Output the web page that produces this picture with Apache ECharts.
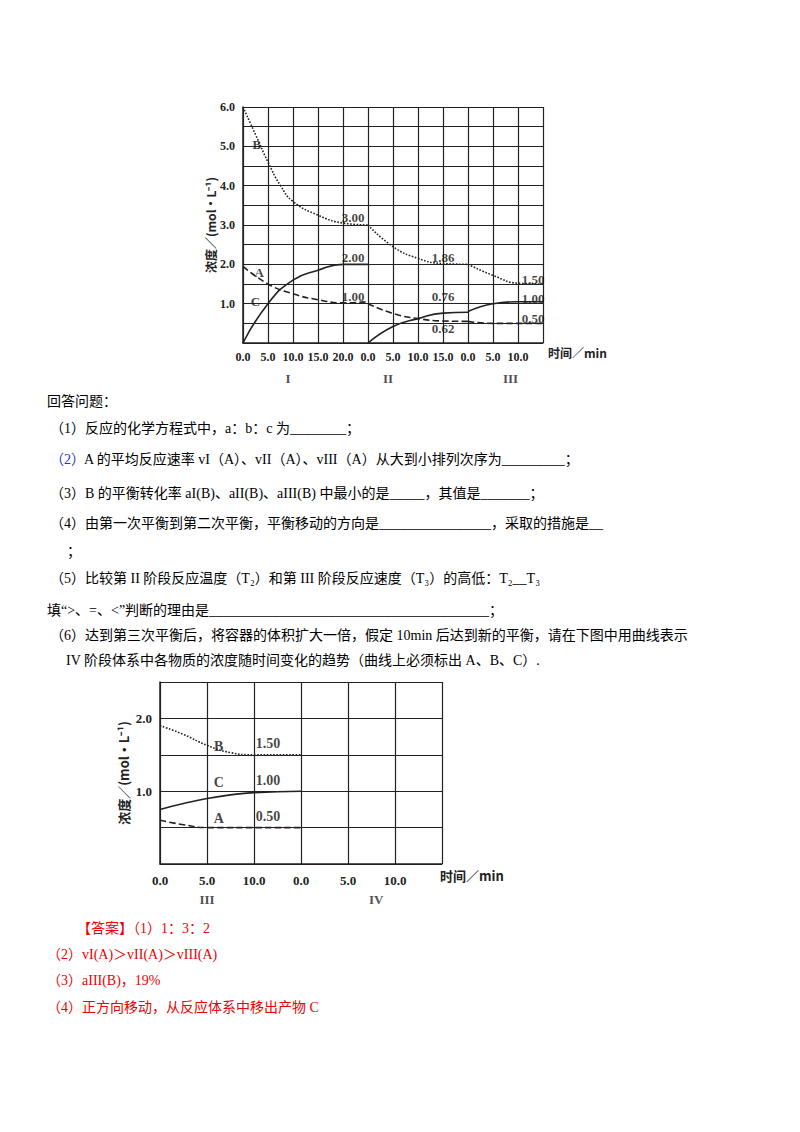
<!DOCTYPE html>
<html><head><meta charset="utf-8">
<script src="https://cdn.jsdelivr.net/npm/echarts@6/dist/echarts.min.js"></script>
<style>html,body{margin:0;padding:0;background:#fff}#c{width:800px;height:1132px}</style>
</head><body><div id="c"></div>
<script>
// ---- chart 1 data (x in grid cells; 1 cell = 5 min) ----
const xLabels1 = ['0.0','5.0','10.0','15.0','20.0','0.0','5.0','10.0','15.0','0.0','5.0','10.0',''];
const stageLabels1 = [['I',1.8],['II',5.8],['III',10.7]];
const B_I = [[0,6.0],[0.5,5.3],[1,4.6],[1.5,4.0],[2,3.6],[3,3.25],[4,3.05],[5,3.0]];
const B_II = [[5,3.0],[6,2.45],[7,2.15],[8,2.02],[9,2.0]];
const B_III = [[9,2.0],[10,1.72],[11,1.52],[12,1.5]];
const C_I = [[0,0],[1,1.0],[2,1.6],[3,1.85],[4,2.0],[5,2.0]];
const C_II = [[5,0],[6,0.42],[7,0.62],[8,0.76],[9,0.78]];
const C_III = [[9,0.8],[10,1.0],[11,1.05],[12,1.05]];
const A_I = [[0,1.95],[1,1.5],[2,1.25],[3,1.1],[4,1.02],[5,1.05]];
const A_II = [[5,1.0],[6,0.75],[7,0.62],[8,0.56],[9,0.55]];
const A_III = [[9,0.55],[10,0.5],[12,0.5]];
const notes1 = [[0.55,5.05,'B'],[0.65,1.8,'A'],[0.5,1.05,'C'],[4.4,3.18,'3.00'],[4.4,2.18,'2.00'],[4.4,1.18,'1.00'],
  [8.0,2.18,'1.86'],[8.0,1.18,'0.76'],[8.0,0.38,'0.62'],[11.6,1.62,'1.50'],[11.6,1.12,'1.00'],[11.6,0.62,'0.50']];
// ---- chart 2 data ----
const xLabels2 = ['0.0','5.0','10.0','0.0','5.0','10.0',''];
const stageLabels2 = [['III',1],['IV',4.6]];
const B2 = [[0,1.9],[0.5,1.78],[1,1.63],[1.5,1.53],[2,1.5],[3,1.5]];
const C2 = [[0,0.75],[0.5,0.83],[1,0.9],[1.5,0.95],[2,0.98],[3,1.0]];
const A2 = [[0,0.6],[0.5,0.54],[1,0.5],[3,0.5]];
const notes2 = [[1.25,1.62,'B'],[2.3,1.65,'1.50'],[1.25,1.12,'C'],[2.3,1.15,'1.00'],[1.25,0.62,'A'],[2.3,0.65,'0.50']];

const serif = 'Liberation Serif';
const cjk = '"Noto Sans CJK SC"';
const ink = '#222';
function ln(data, type, xi){ return {type:'line', xAxisIndex:xi, yAxisIndex:xi, data, smooth:true, symbol:'none',
  lineStyle:{color:ink, width:1.6, type}}; }
function notes(arr, xi, fs){ return {type:'scatter', xAxisIndex:xi, yAxisIndex:xi, symbolSize:0, data:arr.map(d=>[d[0],d[1],d[2]]),
  label:{show:true, position:'inside', formatter:p=>p.data[2], color:'#111', fontFamily:serif, fontSize:fs, fontWeight:'bold'}}; }
function stage(arr, xi){ return {type:'scatter', xAxisIndex:xi, yAxisIndex:xi, symbolSize:0, data:arr.map(d=>[d[1],0,d[0]]),
  label:{show:true, position:'inside', offset:[0,35], formatter:p=>p.data[2], color:ink, fontFamily:serif, fontSize:13, fontWeight:'bold'}}; }
const axisBase = {axisLine:{show:true,lineStyle:{color:ink,width:1.5}}, axisTick:{show:false},
  splitLine:{show:true,lineStyle:{color:ink,width:1.2}}};

const texts = [
 [47,403,'回答问题：','#000'],
 [50,430,'（1）反应的化学方程式中，a：b：c 为________；','#000'],
 [50,461,'（2）','#2233cc'],
 [84,461,'A 的平均反应速率 vI（A）、vII（A）、vIII（A）从大到小排列次序为_________；','#000'],
 [50,495,'（3）B 的平衡转化率 aI(B)、aII(B)、aIII(B) 中最小的是_____，其值是_______；','#000'],
 [50,525,'（4）由第一次平衡到第二次平衡，平衡移动的方向是________________，采取的措施是__','#000'],
 [67,553,'；','#000'],
 [50,580,'（5）比较第 II 阶段反应温度（T₂）和第 III 阶段反应速度（T₃）的高低：T₂__T₃','#000'],
 [47,612,'填“>、=、<”判断的理由是________________________________________；','#000'],
 [50,637,'（6）达到第三次平衡后，将容器的体积扩大一倍，假定 10min 后达到新的平衡，请在下图中用曲线表示','#000'],
 [66,662,'IV 阶段体系中各物质的浓度随时间变化的趋势（曲线上必须标出 A、B、C）.','#000'],
 [77,930,'【答案】（1）1：3：2','#e00'],
 [47,956,'（2）vI(A)＞vII(A)＞vIII(A)','#e00'],
 [47,982,'（3）aIII(B)，19%','#e00'],
 [47,1009,'（4）正方向移动，从反应体系中移出产物 C','#e00']
];

const chart = echarts.init(document.getElementById('c'), null, {renderer:'svg'});
chart.setOption({
  animation:false,
  grid:[{left:243,top:107,width:300,height:236},{left:160,top:682,width:282,height:182}],
  xAxis:[
    Object.assign({type:'value', gridIndex:0, min:0, max:12, interval:1,
      axisLabel:{formatter:v=>xLabels1[Math.round(v)], color:ink, fontFamily:serif, fontSize:12, fontWeight:'bold', margin:8}}, axisBase),
    Object.assign({type:'value', gridIndex:1, min:0, max:6, interval:1,
      axisLabel:{formatter:v=>xLabels2[Math.round(v)], color:ink, fontFamily:serif, fontSize:13, fontWeight:'bold', margin:10}}, axisBase)
  ],
  yAxis:[
    Object.assign({type:'value', gridIndex:0, min:0, max:6, interval:0.5,
      name:'浓度／(mol·L⁻¹)', nameLocation:'middle', nameGap:26, nameRotate:90,
      nameTextStyle:{fontFamily:cjk, fontSize:12, fontWeight:'bold', color:ink},
      axisLabel:{formatter:v=>(v>0 && Number.isInteger(v))?v.toFixed(1):'', color:ink, fontFamily:serif, fontSize:12, fontWeight:'bold'}}, axisBase),
    Object.assign({type:'value', gridIndex:1, min:0, max:2.5, interval:0.5,
      name:'浓度／(mol·L⁻¹)', nameLocation:'middle', nameGap:30, nameRotate:90,
      nameTextStyle:{fontFamily:cjk, fontSize:13, fontWeight:'bold', color:ink},
      axisLabel:{formatter:v=>(v===1||v===2)?v.toFixed(1):'', color:ink, fontFamily:serif, fontSize:13, fontWeight:'bold'}}, axisBase)
  ],
  series:[
    ln(B_I,'dotted',0), ln(B_II,'dotted',0), ln(B_III,'dotted',0),
    ln(C_I,'solid',0), ln(C_II,'solid',0), ln(C_III,'solid',0),
    ln(A_I,'dashed',0), ln(A_II,'dashed',0), ln(A_III,'dashed',0),
    notes(notes1,0,13), stage(stageLabels1,0),
    ln(B2,'dotted',1), ln(C2,'solid',1), ln(A2,'dashed',1),
    notes(notes2,1,14), stage(stageLabels2,1)
  ],
  graphic:[
    {type:'text', left:548, top:346, style:{text:'时间／min', font:'bold 12px '+cjk, fill:ink}},
    {type:'text', left:440, top:869, style:{text:'时间／min', font:'bold 13px '+cjk, fill:ink}}
  ].concat(texts.map(t=>({type:'text', left:t[0], top:t[1]-9, style:{text:t[2], font:'14px '+serif+', '+cjk, fill:t[3]}})))
});
</script></body></html>
